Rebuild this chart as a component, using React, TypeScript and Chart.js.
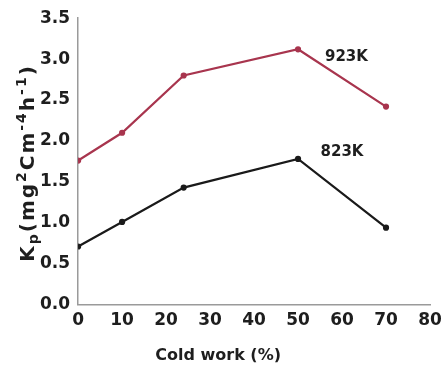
import React, { useEffect, useRef } from "react";
import { Chart, registerables } from "chart.js";

Chart.register(...registerables);

const coldWork = [0, 10, 24, 50, 70];
const k923 = [1.76, 2.1, 2.8, 3.12, 2.42];
const k823 = [0.71, 1.01, 1.43, 1.78, 0.94];
const seriesLabels = ["923K", "823K"];
const labelAnchors = [
  { x: 61, y: 3.03 },
  { x: 60, y: 1.86 },
];
const xTitle = "Cold work (%)";
// y title pieces: [text, kind] kind: n normal, sup, sub
const yTitleParts: [string, string][] = [
  ["K", "n"],
  ["p", "sub"],
  ["(mg", "n"],
  ["2", "sup"],
  ["Cm", "n"],
  ["-4", "sup"],
  ["h", "n"],
  ["-1", "sup"],
  [")", "n"],
];

const FONT = "'DejaVu Sans', sans-serif";
const INK = "#1e1e1e";

const textPlugin = {
  id: "customText",
  afterDraw(chart: any) {
    const { ctx, scales, chartArea } = chart;
    ctx.save();
    ctx.fillStyle = INK;
    // series labels
    ctx.font = `bold 15px ${FONT}`;
    ctx.textAlign = "center";
    ctx.textBaseline = "middle";
    seriesLabels.forEach((t, i) => {
      const a = labelAnchors[i];
      ctx.fillText(t, scales.x.getPixelForValue(a.x), scales.y.getPixelForValue(a.y));
    });
    // x title
    ctx.font = `bold 16px ${FONT}`;
    ctx.fillText(xTitle, chartArea.left + 140, chartArea.bottom + 51);
    // y title, rotated
    const mainSize = 20;
    const smallSize = 14;
    const spacing = 2;
    (ctx as any).letterSpacing = `${spacing}px`;
    const fontFor = (k: string) => `bold ${k === "n" ? mainSize : smallSize}px ${FONT}`;
    let total = 0;
    yTitleParts.forEach(([t, k]) => {
      ctx.font = fontFor(k);
      total += ctx.measureText(t).width;
    });
    const cx = 27;
    const cy = 163;
    ctx.translate(cx, cy);
    ctx.rotate(-Math.PI / 2);
    ctx.textAlign = "left";
    ctx.textBaseline = "alphabetic";
    let x = -total / 2;
    const base = 7;
    yTitleParts.forEach(([t, k]) => {
      ctx.font = fontFor(k);
      const dy = k === "sup" ? -8 : k === "sub" ? 4 : 0;
      ctx.fillText(t, x, base + dy);
      x += ctx.measureText(t).width;
    });
    ctx.restore();
  },
};

export default function App() {
  const ref = useRef<HTMLCanvasElement>(null);
  useEffect(() => {
    document.body.style.margin = "0";
    const chart = new Chart(ref.current!, {
      type: "line",
      data: {
        datasets: [
          {
            label: seriesLabels[0],
            data: coldWork.map((x, i) => ({ x, y: k923[i] })),
            borderColor: "#a8354e",
            backgroundColor: "#a8354e",
            borderWidth: 2.2,
            pointRadius: 2,
            tension: 0,
          },
          {
            label: seriesLabels[1],
            data: coldWork.map((x, i) => ({ x, y: k823[i] })),
            borderColor: "#1a1a1a",
            backgroundColor: "#1a1a1a",
            borderWidth: 2.2,
            pointRadius: 2,
            tension: 0,
          },
        ],
      },
      options: {
        animation: false,
        responsive: false,
        layout: { padding: { top: 12, right: 0, left: 32, bottom: 35 } },
        plugins: { legend: { display: false }, tooltip: { enabled: false } },
        scales: {
          x: {
            type: "linear",
            min: 0,
            max: 80,
            grid: { display: false, drawTicks: false },
            border: { color: "#9a9a9a", width: 1.5 },
            ticks: { stepSize: 10, color: INK, font: { family: FONT, size: 17, weight: "bold" }, padding: 6 },
            afterFit: (scale: any) => {
              scale.paddingRight = 13;
            },
          },
          y: {
            min: 0,
            max: 3.5,
            grid: { display: false, drawTicks: false },
            border: { color: "#9a9a9a", width: 1.5 },
            ticks: {
              stepSize: 0.5,
              color: INK,
              font: { family: FONT, size: 17, weight: "bold" },
              padding: 8,
              callback: (v: any) => Number(v).toFixed(1),
            },
          },
        },
      },
      plugins: [textPlugin],
    });
    return () => chart.destroy();
  }, []);
  return (
    <div style={{ position: "absolute", left: 0, top: 0, width: 443, height: 372, background: "#fff" }}>
      <canvas ref={ref} width={443} height={372} />
    </div>
  );
}
